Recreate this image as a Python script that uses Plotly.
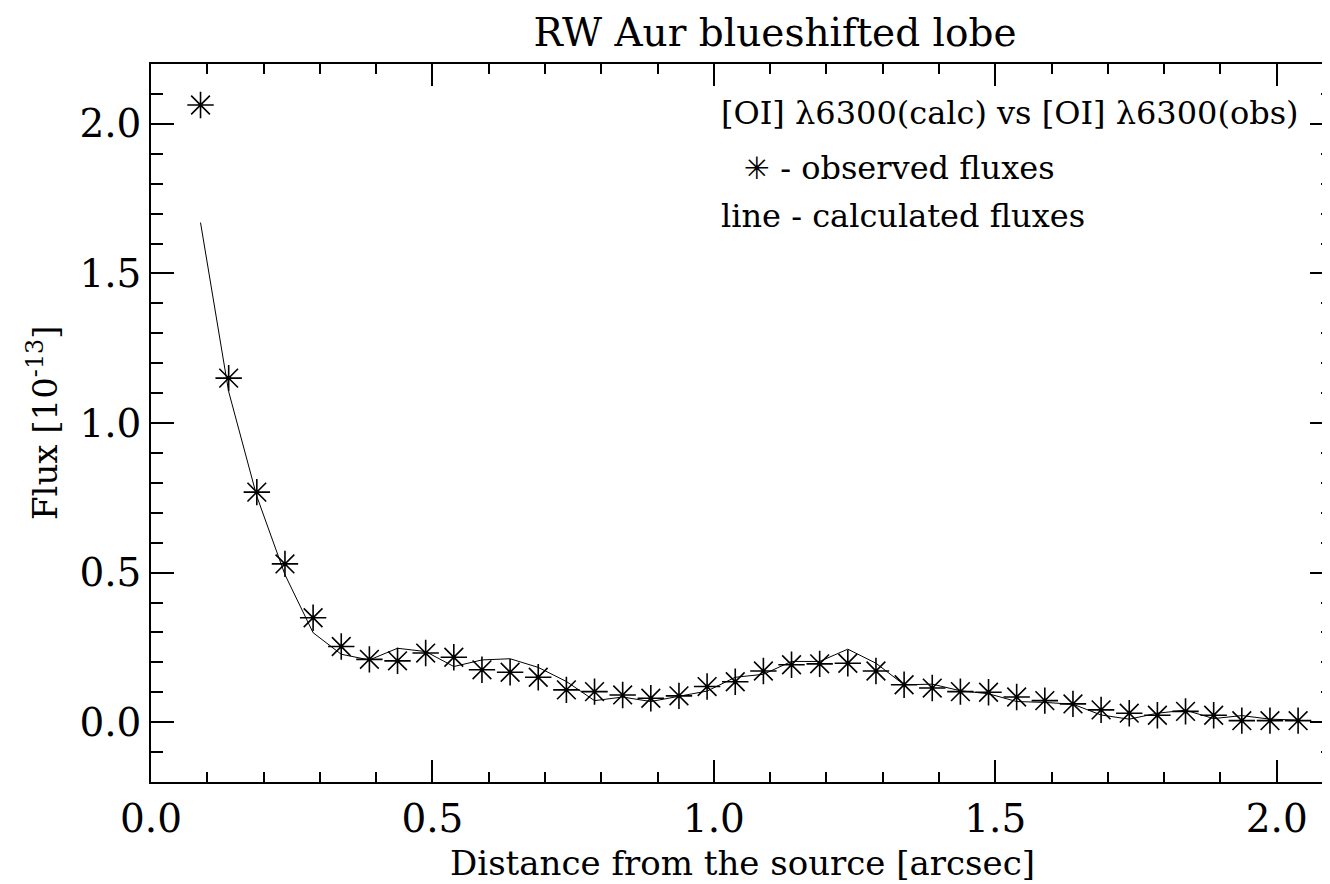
import plotly.graph_objects as go

distance = [0.088, 0.138, 0.188, 0.238, 0.288, 0.338, 0.388, 0.438, 0.488, 0.538,
            0.588, 0.638, 0.688, 0.738, 0.788, 0.838, 0.888, 0.938, 0.988, 1.038,
            1.088, 1.138, 1.188, 1.238, 1.288, 1.338, 1.388, 1.438, 1.488, 1.538,
            1.588, 1.638, 1.688, 1.738, 1.788, 1.838, 1.888, 1.938, 1.988, 2.038]

flux_obs = [2.063, 1.150, 0.769, 0.529, 0.349, 0.253, 0.210, 0.205, 0.231, 0.217,
            0.175, 0.167, 0.150, 0.108, 0.102, 0.091, 0.080, 0.088, 0.119, 0.135,
            0.171, 0.192, 0.195, 0.197, 0.171, 0.125, 0.114, 0.102, 0.100, 0.084,
            0.072, 0.061, 0.041, 0.030, 0.023, 0.036, 0.023, 0.005, 0.005, 0.005]

flux_calc = [1.670, 1.105, 0.755, 0.493, 0.299, 0.227, 0.208, 0.247, 0.236, 0.186,
             0.208, 0.212, 0.183, 0.136, 0.072, 0.084, 0.069, 0.086, 0.104, 0.150,
             0.160, 0.203, 0.203, 0.244, 0.197, 0.125, 0.127, 0.105, 0.095, 0.069,
             0.066, 0.060, 0.024, 0.010, 0.030, 0.040, 0.012, 0.022, 0.010, 0.007]

title_text = "RW Aur blueshifted lobe"
x_title = "Distance from the source [arcsec]"
y_title = "Flux [10<sup>-13</sup>]"
legend_lines = ["[OI] \u03bb6300(calc) vs [OI] \u03bb6300(obs)",
                "<span style='font-family:DejaVu Sans;font-size:31px'>\u2733</span> - observed fluxes",
                "line - calculated fluxes"]

FONT = "DejaVu Serif"

fig = go.Figure()
fig.add_trace(go.Scatter(x=distance, y=flux_calc, mode="lines",
                         line=dict(color="black", width=1), showlegend=False))
fig.add_trace(go.Scatter(x=distance, y=flux_obs, mode="markers",
                         marker=dict(symbol="asterisk-open", size=22, color="black",
                                     line=dict(color="black", width=1.6)),
                         showlegend=False))

axis_common = dict(showline=True, linecolor="black", linewidth=1.5, mirror="allticks",
                   ticks="inside", tickcolor="black", tickwidth=1.5,
                   showgrid=False, zeroline=False,
                   tickfont=dict(family=FONT, size=39, color="black"))

fig.update_xaxes(range=[0, 2.1], tick0=0, dtick=0.5, ticklen=22, tickformat=".1f",
                 minor=dict(dtick=0.1, ticklen=10, ticks="inside", tickcolor="black", tickwidth=1.5),
                 ticklabelstandoff=1, **axis_common)
fig.update_yaxes(range=[-0.2, 2.2], tick0=0, dtick=0.5, ticklen=23, tickformat=".1f",
                 minor=dict(dtick=0.1, ticklen=12, ticks="inside", tickcolor="black", tickwidth=1.5),
                 ticklabelstandoff=0, **axis_common)

annotations = [
    dict(text=x_title, xref="paper", yref="paper", x=0.5, y=0, yshift=-81,
         xanchor="center", yanchor="middle", showarrow=False,
         font=dict(family=FONT, size=34, color="black")),
    dict(text=y_title, xref="paper", yref="paper", x=0, y=0.5, xshift=-108,
         xanchor="center", yanchor="middle", textangle=-90, showarrow=False,
         font=dict(family=FONT, size=34, color="black")),
]
legend_pos = [(712, 105), (735, 160), (712, 208)]
for txt, (px, py) in zip(legend_lines, legend_pos):
    annotations.append(dict(text=txt, xref="paper", yref="paper",
                            x=(px - 143) / 1184, y=(774 - py) / 718,
                            xanchor="left", yanchor="middle", showarrow=False,
                            font=dict(family=FONT, size=32, color="black")))

fig.update_layout(
    width=1330, height=884,
    margin=dict(l=143, r=3, t=56, b=110),
    paper_bgcolor="white", plot_bgcolor="white",
    title=dict(text=title_text, x=767 / 1330, xanchor="center", xref="container",
               y=1 - 24 / 884, yanchor="middle", yref="container",
               font=dict(family=FONT, size=39, color="black")),
    annotations=annotations,
)

fig.write_html("out.html")
